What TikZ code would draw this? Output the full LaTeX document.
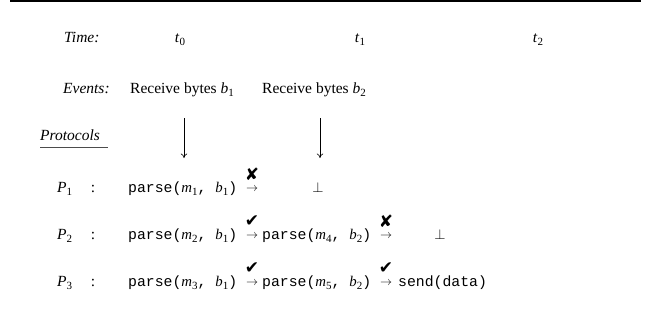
\documentclass[tikz,border=0pt]{standalone}
\usepackage{fontspec}
\setmainfont{Liberation Serif}
\setmonofont{Liberation Mono}
\newfontfamily\symfont{DejaVu Sans}
\usetikzlibrary{arrows.meta}

% italic variable with an upright subscript
\newcommand\vsub[2]{\textit{#1}\raisebox{-0.22em}{\fontsize{11}{12}\selectfont #2}}
% parse(m_i, b_j) call
\newcommand\pcall[2]{\texttt{parse(}\vsub{m}{#1}\texttt{, }\vsub{b}{#2}\texttt{)}}
% protocol name followed by a spaced colon
\newcommand\pname[1]{\vsub{P}{#1}\hspace{1.2em}:}

\tikzset{
  txt/.style={inner sep=0pt, font=\fontsize{15.5}{18}\selectfont},
  lbl/.style={txt, anchor=base west},
  code/.style={lbl, font=\fontsize{14.8}{18}\selectfont},
  tarr/.style={inner sep=0pt, font=\fontsize{13}{14}\selectfont},
  okmark/.style={inner sep=0pt, font=\symfont\fontsize{17}{18}\selectfont},
  flow/.style={line width=0.6pt, -{To[length=4.5pt,width=6.5pt]}},
}

\begin{document}
\begin{tikzpicture}[x=1pt,y=-1pt]
\useasboundingbox (0,0) rectangle (651,327);

% top rule
\draw[line width=1.5pt] (10,1) coordinate (ruleL) -- (641,1) coordinate (ruleR);

% time row
\node[lbl] (time) at (64,42) {\textit{Time:}};
\node[txt, anchor=base] (t0) at (180,42) {\vsub{t}{0}};
\node[txt, anchor=base] (t1) at (360,42) {\vsub{t}{1}};
\node[txt, anchor=base] (t2) at (538,42) {\vsub{t}{2}};

% events row
\node[lbl] (events) at (63,93) {\textit{Events:}};
\node[lbl] (ev1) at (130,93) {Receive bytes \vsub{b}{1}};
\node[lbl] (ev2) at (262,93) {Receive bytes \vsub{b}{2}};

% protocols heading, underlined
\node[lbl] (protocols) at (40,140) {\textit{Protocols}};
\coordinate (ulA) at (40,147);
\coordinate (ulB) at (108,147);
\draw[line width=1pt, black!70] (ulA) -- (ulB);

% incoming bytes
\coordinate (in1s) at (184,118);
\coordinate (in1e) at (184,158);
\coordinate (in2s) at (320,118);
\coordinate (in2e) at (320,158);
\draw[flow] (in1s) -- (in1e);
\draw[flow] (in2s) -- (in2e);

% P1
\node[lbl] (p1) at (57,192) {\pname{1}};
\node[code] (p1a) at (128,192) {\pcall{1}{1}};
\node[tarr] (p1x) at (252,189) {$\rightarrow$};
\node[okmark] (p1m) at (252,174) {✘};
\node[txt, anchor=base] (p1bot) at (318,192) {$\bot$};

% P2
\node[lbl] (p2) at (57,239) {\pname{2}};
\node[code] (p2a) at (128,239) {\pcall{2}{1}};
\node[tarr] (p2x) at (252,236) {$\rightarrow$};
\node[okmark] (p2m) at (252,221) {✔};
\node[code] (p2b) at (262,239) {\pcall{4}{2}};
\node[tarr] (p2y) at (386,236) {$\rightarrow$};
\node[okmark] (p2n) at (386,221) {✘};
\node[txt, anchor=base] (p2bot) at (440,239) {$\bot$};

% P3
\node[lbl] (p3) at (57,286) {\pname{3}};
\node[code] (p3a) at (128,286) {\pcall{3}{1}};
\node[tarr] (p3x) at (252,283) {$\rightarrow$};
\node[okmark] (p3m) at (252,268) {✔};
\node[code] (p3b) at (262,286) {\pcall{5}{2}};
\node[tarr] (p3y) at (386,283) {$\rightarrow$};
\node[okmark] (p3n) at (386,268) {✔};
\node[code] (p3c) at (398,286) {\texttt{send(data)}};
\end{tikzpicture}
\end{document}
